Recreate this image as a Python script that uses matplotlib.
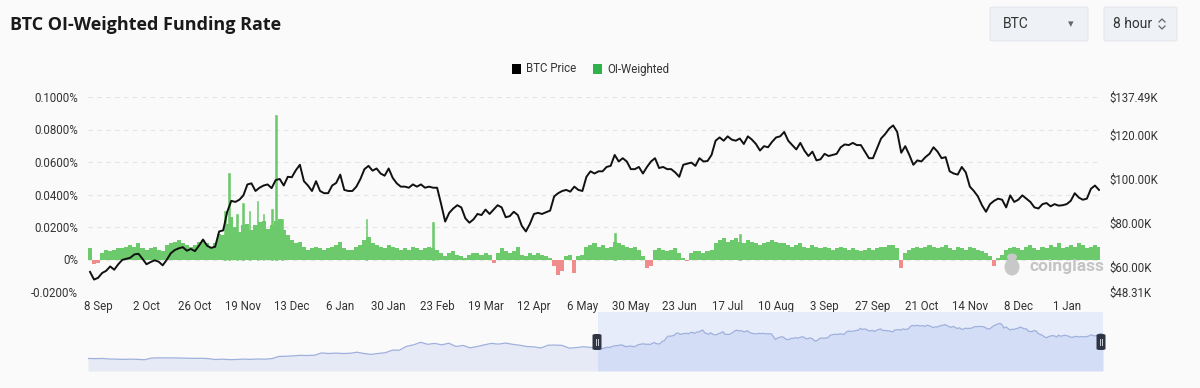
import matplotlib
matplotlib.use("Agg")
import matplotlib.pyplot as plt
import matplotlib.dates as mdates
from matplotlib.patches import FancyBboxPatch, Rectangle, Ellipse
import numpy as np
import pandas as pd

plt.rcParams['font.family'] = ['Roboto', 'DejaVu Sans']

# ---------------- data ----------------
start_date = "2024-09-04"          # first sample, one sample every 2 days
price_k = [
    57.5, 54.0, 54.8, 57.0, 58.0, 60.0, 58.5, 61.0, 63.0, 63.5,
    64.0, 65.5, 65.8, 63.5, 61.0, 62.0, 62.8, 62.2, 60.5, 63.0,
    66.0, 67.5, 68.3, 68.8, 67.2, 68.0, 67.0, 69.5, 72.3, 69.5,
    68.5, 69.0, 76.0, 76.5, 85.0, 90.0, 89.5, 90.5, 92.5, 97.5,
    98.0, 94.5, 96.0, 97.0, 97.5, 95.8, 99.5, 100.0, 97.0, 101.0,
    100.8, 104.0, 106.5, 99.0, 97.0, 94.5, 99.0, 94.5, 93.5, 93.5,
    97.0, 98.2, 102.0, 95.0, 94.5, 94.5, 96.5, 100.0, 104.5, 106.0,
    103.8, 104.8, 102.5, 101.5, 104.8, 100.5, 98.0, 96.5, 96.5, 96.0,
    97.5, 96.5, 97.5, 96.0, 96.5, 96.0, 96.0, 88.5, 80.5, 84.5,
    86.5, 88.0, 87.0, 82.0, 80.0, 81.5, 84.0, 83.5, 86.0, 84.0,
    86.0, 88.0, 87.0, 82.5, 83.0, 85.0, 83.5, 78.5, 76.0, 79.5,
    84.0, 84.5, 84.0, 84.8, 85.5, 92.0, 93.5, 94.5, 95.0, 94.2,
    96.5, 95.0, 94.5, 101.0, 103.5, 102.5, 103.5, 103.5, 105.5, 106.0,
    111.0, 108.0, 109.5, 108.0, 104.5, 104.5, 105.5, 102.5, 105.5, 108.0,
    109.5, 105.0, 105.5, 104.5, 104.5, 103.0, 101.0, 106.5, 107.0, 107.5,
    106.0, 109.5, 108.0, 108.2, 111.0, 117.5, 119.0, 117.5, 119.5, 118.0,
    117.5, 118.5, 116.0, 119.5, 118.0, 116.0, 113.0, 115.0, 114.5, 117.0,
    119.0, 119.5, 121.5, 117.5, 115.5, 113.5, 116.5, 113.0, 110.5, 112.5,
    108.5, 109.0, 111.5, 110.5, 111.0, 111.5, 114.5, 115.8, 115.5, 116.5,
    115.5, 115.5, 112.5, 109.5, 109.5, 114.0, 118.5, 120.5, 123.0, 124.5,
    121.5, 112.0, 115.0, 111.0, 106.5, 108.5, 108.0, 110.0, 111.5, 114.5,
    112.5, 109.5, 110.0, 103.5, 102.5, 102.0, 105.5, 103.0, 96.5, 94.5,
    92.0, 88.0, 85.0, 88.5, 90.0, 91.0, 90.5, 87.0, 92.5, 89.5,
    90.5, 92.5, 91.0, 89.5, 87.0, 86.5, 88.5, 89.0, 87.5, 88.5,
    87.8, 88.0, 88.5, 90.0, 93.5, 91.5, 90.5, 91.0, 95.5, 97.0,
    95.0,
]
funding_pct = [
    0.007, -0.0025, -0.002, 0.004, 0.006, 0.005, 0.006, 0.007, 0.007, 0.008,
    0.009, 0.008, 0.010, 0.007, 0.006, 0.007, 0.008, 0.006, 0.005, 0.009,
    0.010, 0.011, 0.012, 0.010, 0.009, 0.008, 0.009, 0.011, 0.012, 0.010,
    0.008, 0.010, 0.016, 0.015, 0.022, 0.026, 0.020, 0.017, 0.021, 0.022,
    0.018, 0.021, 0.023, 0.024, 0.019, 0.021, 0.024, 0.025, 0.018, 0.015,
    0.012, 0.010, 0.011, 0.008, 0.006, 0.007, 0.008, 0.007, 0.006, 0.007,
    0.008, 0.009, 0.011, 0.007, 0.006, 0.006, 0.008, 0.009, 0.012, 0.014,
    0.010, 0.009, 0.008, 0.007, 0.009, 0.008, 0.007, 0.006, 0.007, 0.006,
    0.008, 0.007, 0.006, 0.007, 0.008, 0.007, 0.006, 0.004, 0.002, 0.004,
    0.005, 0.003, 0.002, 0.001, 0.003, 0.004, 0.004, 0.003, 0.004, 0.003,
    -0.002, 0.004, 0.007, 0.005, 0.004, 0.005, 0.008, 0.003, 0.002, 0.004,
    0.003, 0.004, 0.003, 0.002, 0.001, -0.004, -0.0098, -0.007, 0.002, 0.003,
    -0.008, 0.002, 0.003, 0.008, 0.009, 0.010, 0.008, 0.009, 0.007, 0.008,
    0.011, 0.010, 0.009, 0.008, 0.007, 0.008, 0.006, 0.002, -0.0055, -0.004,
    0.006, 0.007, 0.006, 0.005, 0.006, 0.007, 0.004, 0.001, -0.001, 0.004,
    0.005, 0.005, 0.004, 0.005, 0.006, 0.010, 0.012, 0.013, 0.011, 0.012,
    0.013, 0.011, 0.010, 0.012, 0.011, 0.010, 0.009, 0.010, 0.011, 0.012,
    0.011, 0.010, 0.010, 0.009, 0.008, 0.009, 0.010, 0.008, 0.007, 0.009,
    0.008, 0.007, 0.008, 0.007, 0.006, 0.007, 0.008, 0.007, 0.006, 0.007,
    0.006, 0.005, 0.006, 0.007, 0.006, 0.007, 0.008, 0.008, 0.009, 0.009,
    0.007, -0.005, 0.004, 0.006, 0.007, 0.008, 0.007, 0.008, 0.009, 0.008,
    0.007, 0.008, 0.009, 0.007, 0.006, 0.008, 0.007, 0.006, 0.008, 0.007,
    0.006, 0.005, 0.004, 0.002, -0.004, 0.001, 0.003, 0.006, 0.007, 0.008,
    0.007, 0.006, 0.008, 0.009, 0.007, 0.006, 0.008, 0.007, 0.009, 0.008,
    0.010, 0.007, 0.008, 0.009, 0.008, 0.010, 0.009, 0.007, 0.008, 0.009,
    0.008,
]
# single 8-hour readings that stand out above the 2-day level
spike_dates = ["2024-11-10", "2024-11-12", "2024-11-16", "2024-11-19", "2024-11-22",
               "2024-11-26", "2024-11-29", "2024-12-03", "2024-12-05", "2024-12-08",
               "2025-01-19", "2025-02-21", "2025-05-22", "2025-07-23"]
spike_pct = [0.030, 0.053, 0.028, 0.035, 0.030, 0.036, 0.028, 0.031, 0.089, 0.025,
             0.025, 0.023, 0.0166, 0.016]

# navigator: weekly price history before the displayed window
nav_start = "2023-04-19"
nav_hist_k = [
    29.0, 28.5, 29.0, 27.5, 27.0, 26.5, 27.0, 26.5, 25.5, 30.0,
    30.5, 30.5, 30.5, 30.0, 29.5, 29.2, 29.5, 28.5, 26.0, 27.0,
    25.8, 26.2, 27.2, 26.5, 27.5, 27.0, 28.5, 34.5, 35.0, 36.0,
    37.5, 37.0, 37.8, 44.0, 42.5, 43.5, 42.5, 43.0, 46.0, 42.5,
    40.0, 42.5, 44.5, 51.5, 51.5, 62.0, 66.0, 73.0, 67.5, 70.0,
    66.0, 70.5, 61.5, 64.5, 58.0, 61.5, 66.0, 70.0, 68.0, 71.0,
    67.5, 65.0, 61.5, 60.5, 57.5, 65.0, 65.5, 64.5, 57.0, 58.5,
    61.0, 59.0,
]

left_ticks = [-0.02, 0.0, 0.02, 0.04, 0.06, 0.08, 0.10]
left_labels = ["-0.0200%", "0%", "0.0200%", "0.0400%", "0.0600%", "0.0800%", "0.1000%"]
right_ticks = [48.31, 60, 80, 100, 120, 137.49]
right_labels = ["$48.31K", "$60.00K", "$80.00K", "$100.00K", "$120.00K", "$137.49K"]
x_tick_labels = ["8 Sep", "2 Oct", "26 Oct", "19 Nov", "13 Dec", "6 Jan", "30 Jan",
                 "23 Feb", "19 Mar", "12 Apr", "6 May", "30 May", "23 Jun", "17 Jul",
                 "10 Aug", "3 Sep", "27 Sep", "21 Oct", "14 Nov", "8 Dec", "1 Jan"]
first_tick = "2024-09-08"

# ---------------- figure ----------------
W, H = 1200, 388
BG = '#fafafa'
fig = plt.figure(figsize=(W / 100, H / 100), dpi=100, facecolor=BG)

def fx(x):
    return x / W

def fy(y):
    return 1 - y / H

dates = pd.date_range(start_date, periods=len(price_k), freq="2D")
fund = np.array(funding_pct)
xd = mdates.date2num(dates)

ax = fig.add_axes([fx(88), fy(292), fx(1100) - fx(88), fy(97) - fy(292)])
ax.set_facecolor(BG)
GREEN = '#6cc96c'
RED = '#f08c8c'
colors = [GREEN if v >= 0 else RED for v in fund]
ax.bar(xd, fund, width=2.0, color=colors, linewidth=0, align='center', zorder=2)
sd = mdates.date2num(pd.to_datetime(spike_dates))
ax.bar(sd, spike_pct, width=0.9, color=GREEN, edgecolor=GREEN, linewidth=0.4, zorder=2)

ax.set_ylim(-0.02, 0.10)
ax.set_yticks(left_ticks)
ax.set_yticklabels(left_labels)
ax.yaxis.grid(True, color='#e4e4e4', linestyle=(0, (4, 4)), linewidth=0.8, zorder=0)
ax.set_axisbelow(True)
for s in ax.spines.values():
    s.set_visible(False)
ax.tick_params(axis='y', length=0, pad=7, labelsize=8.3, labelcolor='#333333')

tick_dates = pd.date_range(first_tick, periods=len(x_tick_labels), freq="24D")
ax.set_xticks(mdates.date2num(tick_dates))
ax.set_xticklabels(x_tick_labels)
ax.tick_params(axis='x', length=0, pad=6, labelsize=8.3, labelcolor='#333333')
ax.set_xlim(xd[0] - 1.0, xd[-1] + 0.5)

ax2 = ax.twinx()
ax2.plot(xd, price_k, color='#111111', linewidth=1.4, zorder=5)
ax2.set_ylim(48.31, 137.49)
ax2.set_yticks(right_ticks)
ax2.set_yticklabels(right_labels)
ax2.tick_params(axis='y', length=0, pad=7, labelsize=8.3, labelcolor='#333333')
for s in ax2.spines.values():
    s.set_visible(False)

# watermark
fig.text(fx(1030), fy(267), "coinglass", fontsize=12.5, fontweight='bold',
         color='#c4c4c4', ha='left', va='center', zorder=10)
fig.patches.append(Ellipse((fx(1012), fy(267)), 15 / W, 17 / H, transform=fig.transFigure,
                           facecolor='#c8c8c8', edgecolor='none', zorder=9))
fig.patches.append(Ellipse((fx(1012), fy(257)), 10 / W, 7 / H, transform=fig.transFigure,
                           facecolor='#c8c8c8', edgecolor='none', zorder=9))

# ---------------- title, controls, legend ----------------
fig.text(fx(10), fy(25), "BTC OI-Weighted Funding Rate", fontsize=13, fontweight='bold',
         color='#1a1a1a', ha='left', va='center', family=['Open Sans', 'DejaVu Sans'])

for (x0, x1) in [(990, 1088), (1104, 1177)]:
    fig.patches.append(FancyBboxPatch((fx(x0), fy(41)), fx(x1) - fx(x0), fy(7) - fy(41),
                                      boxstyle="round,pad=0,rounding_size=0.004",
                                      transform=fig.transFigure, facecolor='#eef1f5',
                                      edgecolor='#e3e7ec', linewidth=0.8))
fig.text(fx(1003), fy(24), "BTC", fontsize=10, color='#333333', ha='left', va='center')
fig.text(fx(1071), fy(24), "\u25BE", fontsize=8, color='#666666', ha='center', va='center')
fig.text(fx(1113), fy(24), "8 hour", fontsize=10, color='#333333', ha='left', va='center')
fig.lines.append(plt.Line2D([fx(1159), fx(1162), fx(1165)], [fy(22), fy(19), fy(22)],
                            transform=fig.transFigure, color='#666666', linewidth=0.9))
fig.lines.append(plt.Line2D([fx(1159), fx(1162), fx(1165)], [fy(26), fy(29), fy(26)],
                            transform=fig.transFigure, color='#666666', linewidth=0.9))

# legend
fig.patches.append(Rectangle((fx(512), fy(73.5)), 9 / W, 9 / H, transform=fig.transFigure,
                             facecolor='#000000', edgecolor='none'))
fig.text(fx(526), fy(69), "BTC Price", fontsize=8.3, color='#333333', ha='left', va='center')
fig.patches.append(Rectangle((fx(593), fy(73.5)), 9 / W, 9 / H, transform=fig.transFigure,
                             facecolor='#2fb24c', edgecolor='none'))
fig.text(fx(607), fy(69), "OI-Weighted", fontsize=8.3, color='#333333', ha='left', va='center')

# ---------------- navigator ----------------
nav_dates = pd.date_range(nav_start, periods=len(nav_hist_k), freq="7D")
nx = np.concatenate([mdates.date2num(nav_dates), xd])
ny = np.concatenate([np.array(nav_hist_k), np.array(price_k)])
nax = fig.add_axes([fx(88), fy(371), fx(1103) - fx(88), fy(312) - fy(371)])
nax.set_facecolor('none')
nax.set_xlim(nx[0], nx[-1])
nax.set_ylim(-5.2, 155.5)
nax.axis('off')
sel0, sel1 = xd[0], nx[-1]
nax.axvspan(sel0, sel1, color='#e6ecfa', zorder=0, linewidth=0)
pre = nx <= sel0 + 0.01
nax.fill_between(nx[pre], -5.2, ny[pre], color='#e6eaf6', linewidth=0, zorder=1)
nax.fill_between(nx[~pre], -5.2, ny[~pre], color='#d3ddf6', linewidth=0, zorder=1)
nax.fill_between([nx[pre][-1], nx[~pre][0]], -5.2, [ny[pre][-1], ny[~pre][0]],
                 color='#d3ddf6', linewidth=0, zorder=1)
nax.plot(nx, ny, color='#9fb0dc', linewidth=0.9, zorder=2)

for hx in [597, 1101]:
    fig.patches.append(FancyBboxPatch((fx(hx - 4.5), fy(350)), 9 / W, 16 / H,
                                      boxstyle="round,pad=0,rounding_size=0.003",
                                      transform=fig.transFigure, facecolor='#2f3542',
                                      edgecolor='none', zorder=20))
    for dx in (-1.2, 1.2):
        fig.lines.append(plt.Line2D([fx(hx + dx), fx(hx + dx)], [fy(339), fy(345)],
                                    transform=fig.transFigure, color='#c8ccd4',
                                    linewidth=0.7, zorder=21))

fig.savefig("out.png", dpi=100, facecolor=BG)
